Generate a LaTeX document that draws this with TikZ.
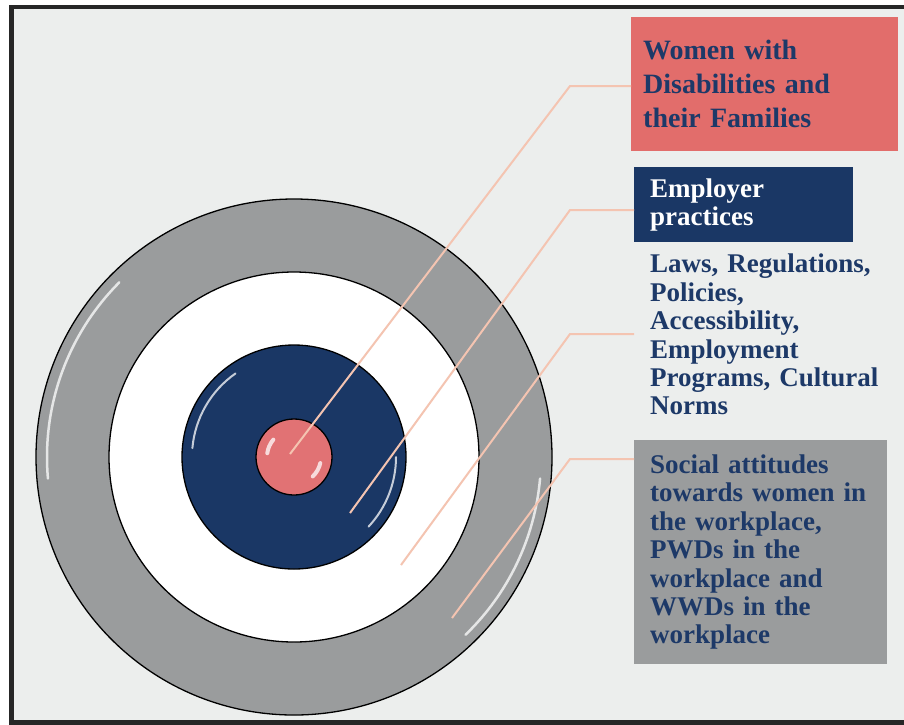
\documentclass[tikz,border=0pt]{standalone}
\usepackage{fontspec}
\setmainfont{Liberation Serif}
\usetikzlibrary{positioning}

\definecolor{paper}{HTML}{ECEEED}
\definecolor{ringgray}{HTML}{9A9C9D}
\definecolor{coreblue}{HTML}{1A3765}
\definecolor{corepink}{HTML}{E17274}
\definecolor{boxpink}{HTML}{E26D6B}
\definecolor{leaderpeach}{HTML}{F4C4B1}
\definecolor{labelnavy}{HTML}{1D3968}

\begin{document}
\begin{tikzpicture}[x=1pt, y=-1pt,
    ring/.style={draw=black, line width=1.3pt},
    gloss/.style={draw=white, line width=#1, line cap=round, opacity=0.75},
    gloss/.default=2.5pt,
    leader/.style={draw=leaderpeach, line width=2pt},
    tag/.style={anchor=north west, inner xsep=16pt, inner ysep=0pt, align=left, text=labelnavy,
        font=\bfseries\fontsize{27}{28.4}\selectfont}]
    % Define centre of the target and ring radii
    \def\cx{294} \def\cy{457}
    \def\rA{258} % outer grey ring
    \def\rB{185} % white ring
    \def\rC{112} % blue disc
    \def\rD{38}  % pink core

    % Fix the page size and draw the framed background
    \useasboundingbox (0,0) rectangle (904,724);
    \fill[paper] (11.5,7) rectangle (920,722.5);
    \draw[line width=4.5pt, black!85] (11.5,7) rectangle (920,722.5);

    % Draw the nested rings from the outside in
    \filldraw[ring, fill=ringgray] (\cx,\cy) circle[radius=\rA];
    \filldraw[ring, fill=white] (\cx,\cy) circle[radius=\rB];
    \filldraw[ring, fill=coreblue] (\cx,\cy) circle[radius=\rC];
    \filldraw[ring, fill=corepink] (\cx,\cy) circle[radius=\rD];

    % Add the glossy highlights
    \draw[gloss] (\cx,\cy) ++(-135:247) arc[start angle=-135, end angle=-185, radius=247];
    \draw[gloss] (\cx,\cy) ++(5:247) arc[start angle=5, end angle=46, radius=247];
    \draw[gloss=2pt] (\cx,\cy) ++(-125:102) arc[start angle=-125, end angle=-175, radius=102];
    \draw[gloss=2pt] (\cx,\cy) ++(0:102) arc[start angle=0, end angle=43, radius=102];
    \draw[gloss=4pt] (\cx,\cy) ++(-140:27) arc[start angle=-140, end angle=-172, radius=27];
    \draw[gloss=4pt] (\cx,\cy) ++(13:27) arc[start angle=13, end angle=46, radius=27];

    % Label boxes on the right
    \node[tag, fill=boxpink, inner xsep=12pt, text width=243pt, minimum height=134pt,
        font=\bfseries\fontsize{28}{34}\selectfont] (wwd) at (631,17)
        {Women with\\Disabilities and\\their Families};
    \node[tag, fill=coreblue, text=white, text width=187pt, minimum height=75pt] (employer) at (634,167)
        {Employer\\practices};
    \node[tag, text width=235pt] (laws) at (634,254)
        {Laws, Regulations,\\Policies,\\Accessibility,\\Employment\\Programs, Cultural\\Norms};
    \node[tag, fill=ringgray, text width=221pt, minimum height=224pt] (social) at (634,440)
        {Social attitudes\\towards women in\\the workplace,\\PWDs in the\\workplace and\\WWDs in the\\workplace};

    % Leader lines: start inside a ring, bend at the elbow, run to the label
    \coordinate (p1) at (290,454);  \coordinate (k1) at (570,86);
    \coordinate (p2) at (350,513);  \coordinate (k2) at (570,210);
    \coordinate (p3) at (401,565);  \coordinate (k3) at (570,334);
    \coordinate (p4) at (452,618);  \coordinate (k4) at (570,459);
    \draw[leader] (p1) -- (k1) -- (k1 -| wwd.west);
    \draw[leader] (p2) -- (k2) -- (k2 -| employer.west);
    \draw[leader] (p3) -- (k3) -- (k3 -| laws.west);
    \draw[leader] (p4) -- (k4) -- (k4 -| social.west);
\end{tikzpicture}
\end{document}
